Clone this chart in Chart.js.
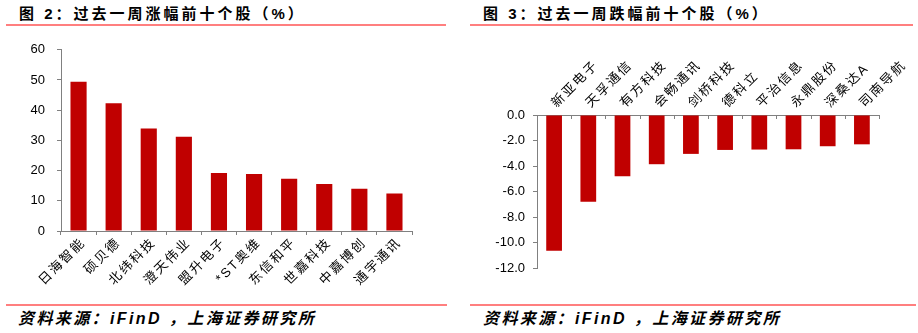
<!DOCTYPE html>
<html>
<head>
<meta charset="utf-8">
<script src="https://cdn.jsdelivr.net/npm/chart.js@4.4.1/dist/chart.umd.min.js"></script>
<style>
    body {
        margin: 0;
        width: 918px;
        height: 333px;
        background: #fff;
        position: relative;
        overflow: hidden;
        font-family: "Liberation Sans", "Noto Sans CJK SC", sans-serif;
        color: #000;
    }
    .title {
        position: absolute;
        top: 5px;
        font-size: 15px;
        font-weight: bold;
        letter-spacing: 3px;
        line-height: 18px;
        white-space: nowrap;
    }
    .rule {
        position: absolute;
        height: 2px;
        background: #ff7f7f;
    }
    .source {
        position: absolute;
        top: 310px;
        font-size: 16px;
        font-weight: bold;
        font-style: italic;
        letter-spacing: 2.4px;
        line-height: 18px;
        white-space: nowrap;
    }
    canvas {
        position: absolute;
        top: 30px;
    }
</style>
</head>
<body>
<div class="title" style="left:19px">图 2：过去一周涨幅前十个股（%）</div>
<div class="rule" style="left:6px;width:440px;top:24px"></div>
<div class="title" style="left:483px">图 3：过去一周跌幅前十个股（%）</div>
<div class="rule" style="left:470px;width:443px;top:24px"></div>

<canvas id="upChart" width="459" height="270" style="left:0"></canvas>
<canvas id="downChart" width="459" height="270" style="left:459px"></canvas>

<div class="rule" style="left:6px;width:441px;top:304px"></div>
<div class="source" style="left:18px">资料来源：iFinD ，上海证券研究所</div>
<div class="rule" style="left:470px;width:446px;top:304px"></div>
<div class="source" style="left:483px">资料来源：iFinD ，上海证券研究所</div>

<script>
// Dữ liệu biểu đồ tăng (图 2)
const upNames = ['日海智能', '硕贝德', '北纬科技', '澄天伟业', '盟升电子', '*ST奥维', '东信和平', '世嘉科技', '中嘉博创', '通宇通讯']
const upValues = [49.4, 42.3, 33.9, 31.2, 19.2, 18.9, 17.3, 15.6, 14.0, 12.4]
const upTicks = [0, 10, 20, 30, 40, 50, 60]

// Dữ liệu biểu đồ giảm (图 3)
const downNames = ['新亚电子', '天孚通信', '有方科技', '会畅通讯', '剑桥科技', '德科立', '平治信息', '永鼎股份', '深桑达A', '司南导航']
const downValues = [-10.64, -6.81, -4.80, -3.86, -3.05, -2.74, -2.71, -2.69, -2.45, -2.30]
const downTicks = [-12, -10, -8, -6, -4, -2, 0]

const barColor = '#c00000'
const axisColor = '#808080'
const fontFamily = '"Liberation Sans", "Noto Sans CJK SC", sans-serif'

Chart.defaults.font.family = fontFamily
Chart.defaults.color = '#000'

// Vạch chia hướng vào trong cho trục x nằm phía trên
const innerTicks = {
    id: 'innerTicks',
    afterDatasetsDraw(chart) {
        const x = chart.scales.x
        const ctx = chart.ctx
        ctx.save()
        ctx.strokeStyle = axisColor
        ctx.lineWidth = 1
        ctx.beginPath()
        for (let i = 1; i <= x.ticks.length; i++) {
            const px = Math.round(x.getPixelForValue(i - 0.5)) + 0.5
            ctx.moveTo(px, x.bottom)
            ctx.lineTo(px, x.bottom + 4)
        }
        ctx.stroke()
        ctx.restore()
    }
}

// Giãn chữ nhãn trục x cho giống bản gốc
function spaceLabels(scale) {
    if (scale._spaced) return
    const draw = scale.drawLabels
    scale.drawLabels = function (area) {
        const ctx = this.ctx
        ctx.letterSpacing = '2px'
        draw.call(this, area)
        ctx.letterSpacing = '0px'
    }
    scale._spaced = true
}

function makeChart(id, names, values, ticks, opts) {
    const ctx = document.getElementById(id).getContext('2d')
    return new Chart(ctx, {
        type: 'bar',
        data: {
            labels: names,
            datasets: [{
                data: values,
                backgroundColor: barColor,
                borderWidth: 0,
                barPercentage: 0.46,
                categoryPercentage: 1
            }]
        },
        options: {
            responsive: false,
            animation: false,
            devicePixelRatio: 1,
            layout: { padding: opts.padding },
            plugins: {
                legend: { display: false },
                tooltip: { enabled: false }
            },
            scales: {
                x: {
                    position: opts.xPosition,
                    afterFit: s => { s.height = opts.xHeight },
                    afterUpdate: spaceLabels,
                    border: { display: true, color: axisColor, width: 1 },
                    grid: {
                        display: opts.xPosition === 'bottom',
                        drawOnChartArea: false,
                        color: axisColor,
                        tickLength: 4
                    },
                    ticks: {
                        autoSkip: false,
                        minRotation: 45,
                        maxRotation: 45,
                        padding: opts.xPad,
                        labelOffset: opts.xShift,
                        color: '#000',
                        font: { size: 13, family: fontFamily }
                    }
                },
                y: {
                    min: ticks[0],
                    max: ticks[ticks.length - 1],
                    afterFit: s => { s.width = opts.yWidth },
                    afterBuildTicks: s => { s.ticks = ticks.map(v => ({ value: v })) },
                    border: { display: true, color: axisColor, width: 1 },
                    grid: {
                        drawOnChartArea: false,
                        color: axisColor,
                        tickLength: 4
                    },
                    ticks: {
                        padding: opts.yPad,
                        color: '#000',
                        font: { size: 13, family: fontFamily },
                        callback: opts.yFormat
                    }
                }
            }
        },
        plugins: opts.plugins
    })
}

makeChart('upChart', upNames, upValues, upTicks, {
    padding: { left: 0, right: 47, top: 18, bottom: 0 },
    xPosition: 'bottom',
    xHeight: 69,
    xPad: 0,
    xShift: 5,
    yWidth: 61,
    yPad: 12,
    yFormat: v => v,
    plugins: []
})

makeChart('downChart', downNames, downValues, downTicks, {
    padding: { left: 0, right: 39, top: 0, bottom: 32 },
    xPosition: 'top',
    xHeight: 85,
    xPad: 0,
    xShift: 11,
    yWidth: 78,
    yPad: 8,
    yFormat: v => v.toFixed(1),
    plugins: [innerTicks]
})
</script>
</body>
</html>
